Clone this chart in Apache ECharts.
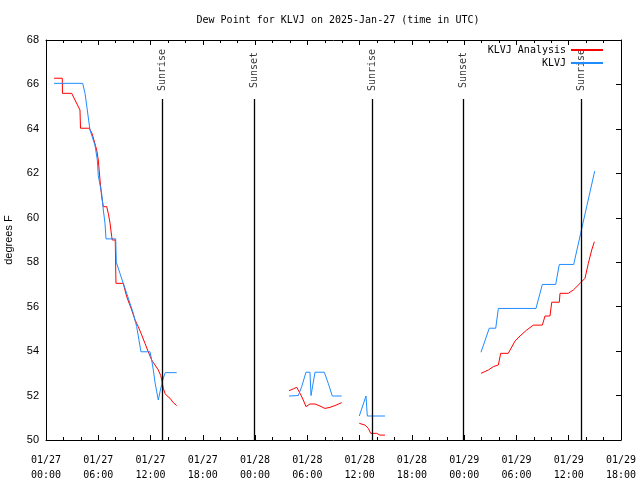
<!DOCTYPE html>
<html><head><meta charset="utf-8">
<script src="https://cdn.jsdelivr.net/npm/echarts@6/dist/echarts.min.js"></script>
<style>html,body{margin:0;padding:0;background:#fff}#c{width:640px;height:480px}</style>
</head><body><div id="c"></div>
<script>
// Hours since 01/27 00:00 UTC, dew point in degrees F; null = gap
const analysisHours = [0.92,1.87,1.89,2.95,3.90,3.96,4.97,5.28,5.82,6.0,6.2,6.39,6.58,6.97,7.15,7.35,7.54,7.61,7.95,8.03,8.87,9.26,9.84,10.22,10.59,10.98,11.36,11.74,12.13,12.51,12.89,13.17,13.28,13.46,13.66,13.85,14.23,14.61,15.0,
  21.0,
  27.89,28.39,28.78,29.16,29.53,29.84,30.3,30.88,31.45,32.02,32.6,33.17,33.94,
  35.0,
  35.96,36.62,37.0,37.27,37.96,38.34,38.91,
  44.0,
  49.93,50.77,51.34,51.92,52.19,53.06,53.83,54.41,55.18,55.93,56.97,57.28,57.85,58.05,58.92,59.0,59.95,60.53,61.3,61.87,62.25,62.64,62.94];
const analysisValues = [66.28,66.28,65.6,65.6,64.85,64.03,64.03,63.8,63.05,62.6,61.7,60.95,60.5,60.5,60.2,59.76,59.15,59.0,59.0,57.05,57.05,56.45,55.85,55.4,55.1,54.73,54.35,53.97,53.6,53.375,53.15,52.9,52.7,52.33,52.1,52.0,51.88,51.68,51.55,
  null,
  52.22,52.3,52.37,52.1,51.8,51.5,51.62,51.62,51.53,51.42,51.47,51.55,51.68,
  null,
  50.75,50.67,50.52,50.3,50.3,50.22,50.22,
  null,
  53.0,53.15,53.3,53.375,53.9,53.9,54.45,54.68,54.95,55.17,55.17,55.58,55.58,56.2,56.2,56.6,56.6,56.75,57.05,57.28,57.95,58.55,58.92];

const obsHours = [0.92,4.21,4.48,5.05,5.62,5.89,6.0,6.2,6.39,6.58,6.77,6.89,8.0,8.07,8.49,8.87,9.26,9.64,10.02,10.41,10.67,10.9,11.94,12.13,12.32,12.51,12.71,12.89,13.09,13.28,13.46,13.69,15.0,
  21.0,
  27.89,28.96,29.35,29.84,30.3,30.42,30.88,31.94,32.4,32.86,33.94,
  35.0,
  35.96,36.73,36.88,38.91,
  44.0,
  49.93,50.88,51.62,51.92,56.24,56.97,58.5,58.92,60.57,61.37,62.06,62.98];
const obsValues = [66.05,66.05,65.6,63.95,63.27,62.6,61.9,61.48,61.1,60.35,59.76,59.05,59.05,58.0,57.5,57.05,56.6,56.15,55.7,55.1,54.5,53.97,53.97,53.6,53.15,52.6,52.17,51.8,52.17,52.5,52.78,53.03,53.03,
  null,
  51.98,52.0,52.4,53.05,53.05,52.0,53.05,53.05,52.55,51.98,51.98,
  null,
  51.08,51.98,51.08,51.08,
  null,
  53.95,55.03,55.03,55.92,55.92,57.0,57.0,57.9,57.9,59.3,60.5,62.1];

const sunEventHours = [13.39, 23.9, 37.42, 47.87, 61.41];
const sunEventNames = ['Sunrise','Sunset','Sunrise','Sunset','Sunrise'];
const sunLineTop = 65.35;
const sunLabelY = 66.65;

const yTicks = {min:50, max:68, interval:2};
const xRange = {min:0, max:66, interval:6};
const dayLabels = ['01/27','01/28','01/29','01/30'];

function pairs(hs, vs){ return hs.map((h,i)=>[h, vs[i]]); }
function fmtX(h){
  const d = Math.floor(h/24+1e-9);
  const hr = Math.round(h - d*24);
  return dayLabels[d] + '\n' + String(hr).padStart(2,'0') + ':00';
}

const mono = 'DejaVu Sans Mono';
const chart = echarts.init(document.getElementById('c'), null, {renderer:'canvas'});
chart.setOption({
  animation:false,
  backgroundColor:'#fff',
  title:{text:'Dew Point for KLVJ on 2025-Jan-27 (time in UTC)', left:333, textAlign:'center', top:10,
    textStyle:{fontFamily:mono, fontSize:10, fontWeight:'normal', color:'#000'}},
  legend:{orient:'vertical', right:31, top:40, align:'right', itemWidth:32, itemHeight:10, itemGap:3,
    itemStyle:{opacity:0},
    textStyle:{fontFamily:mono, fontSize:10, color:'#000', padding:[0,0,0,0]},
    data:['KLVJ Analysis','KLVJ']},
  grid:{left:46, right:19, top:40, bottom:40, containLabel:false, outerBoundsMode:'none'},
  xAxis:[{type:'value', position:'bottom', min:xRange.min, max:xRange.max, interval:xRange.interval,
    axisLine:{show:true, onZero:false, lineStyle:{color:'#000', width:1}},
    axisTick:{show:true, inside:true, length:5, lineStyle:{color:'#000'}},
    minorTick:{show:true, splitNumber:3, length:3, lineStyle:{color:'#000'}},
    splitLine:{show:false},
    axisLabel:{formatter:fmtX, fontFamily:mono, fontSize:10, color:'#000', margin:13, lineHeight:15}},
   {type:'value', position:'top', min:xRange.min, max:xRange.max, interval:xRange.interval,
    axisLine:{show:true, onZero:false, lineStyle:{color:'#000', width:1}},
    axisTick:{show:true, inside:true, length:5, lineStyle:{color:'#000'}},
    minorTick:{show:true, splitNumber:3, length:3, lineStyle:{color:'#000'}},
    splitLine:{show:false}, axisLabel:{show:false}}],
  yAxis:[{type:'value', position:'left', min:yTicks.min, max:yTicks.max, interval:yTicks.interval,
    name:'degrees F', nameLocation:'middle', nameGap:32, nameRotate:90,
    nameTextStyle:{fontFamily:'Liberation Sans', fontSize:11, color:'#000'},
    axisLine:{show:true, onZero:false, lineStyle:{color:'#000', width:1}},
    axisTick:{show:false}, splitLine:{show:false},
    axisLabel:{fontFamily:'Liberation Sans', fontSize:11, color:'#000', margin:7}},
   {type:'value', position:'right', min:yTicks.min, max:yTicks.max, interval:yTicks.interval,
    axisLine:{show:true, onZero:false, lineStyle:{color:'#000', width:1}},
    axisTick:{show:true, inside:true, length:5, lineStyle:{color:'#000'}},
    splitLine:{show:false}, axisLabel:{show:false}}],
  series:[
    {name:'KLVJ Analysis', type:'line', data:pairs(analysisHours, analysisValues), symbol:'none',
     connectNulls:false, color:'#ff0000', lineStyle:{color:'#ff0000', width:1}, z:3},
    {name:'KLVJ', type:'line', data:pairs(obsHours, obsValues), symbol:'none',
     connectNulls:false, color:'#1e8cff', lineStyle:{color:'#1e8cff', width:1}, z:4},
    {name:'sunlines', type:'line', data:[], symbol:'none', silent:true,
     markLine:{silent:true, symbol:'none', label:{show:false}, lineStyle:{color:'#000', width:1.3, type:'solid'},
       data: sunEventHours.map(h=>[{coord:[h, yTicks.min]},{coord:[h, sunLineTop]}])}},
    {name:'sunlabels', type:'scatter', symbolSize:0, silent:true,
     data: sunEventHours.map((h,i)=>({value:[h, sunLabelY], name:sunEventNames[i]})),
     label:{show:true, position:'inside', rotate:90, formatter:p=>p.name,
       fontFamily:mono, fontSize:10, color:'#000'}}
  ]
});
</script></body></html>
